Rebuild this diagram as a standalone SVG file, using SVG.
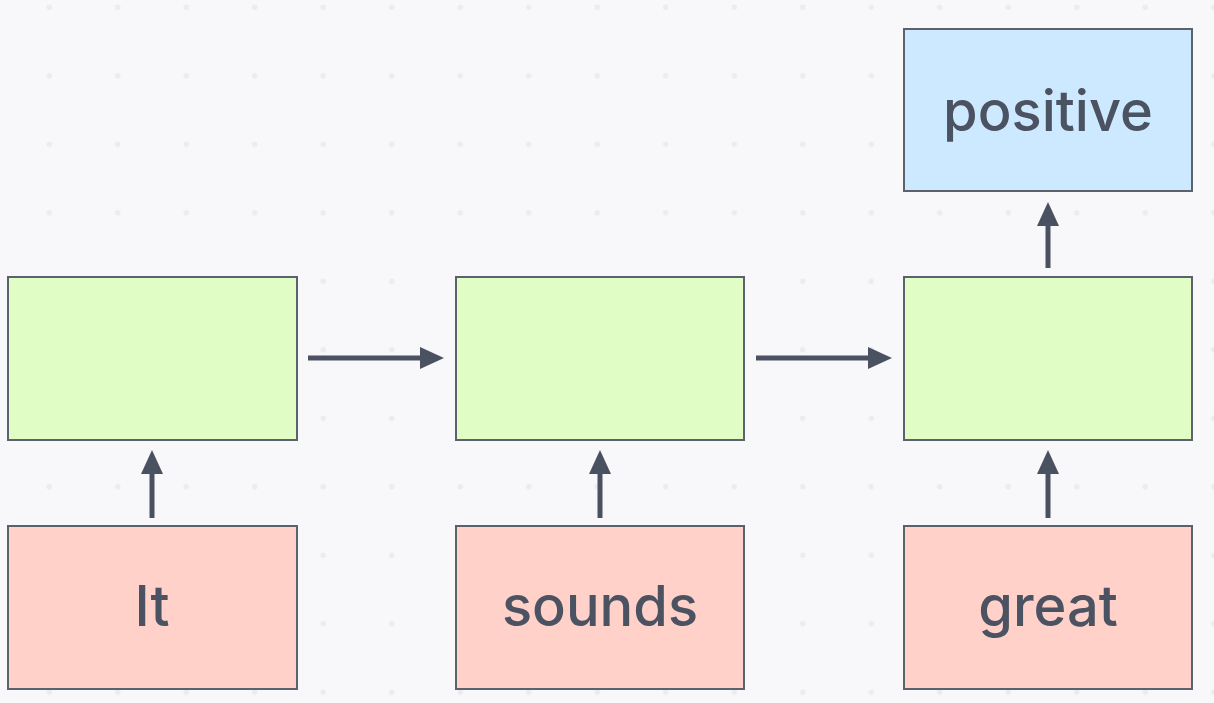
<svg xmlns="http://www.w3.org/2000/svg" width="1214" height="703" viewBox="0 0 1214 703">
<defs>
<style>
.box{stroke:#5b616d;stroke-width:2}
.green{fill:#e0fdc6}
.pink{fill:#ffd1c9}
.blue{fill:#cde9ff}
.lbl{font-family:Inter,"Noto Sans",sans-serif;font-size:56px;font-weight:500;fill:#4b5261;text-anchor:middle}
.conn{stroke:#4a5160;stroke-width:5;fill:none}
</style>
<pattern id="dots" x="15" y="-27" width="68.5" height="68.5" patternUnits="userSpaceOnUse">
<circle cx="34.25" cy="34.25" r="2.8" fill="#ececf0"/>
</pattern>
<marker id="ah" viewBox="0 0 24 24" refX="2" refY="12" markerWidth="24" markerHeight="24" markerUnits="userSpaceOnUse" orient="auto">
<path d="M0,1 L24,12 L0,23 Z" fill="#4a5160"/>
</marker>
</defs>
<rect width="1214" height="703" fill="#f8f8fa"/>
<rect width="1214" height="703" fill="url(#dots)"/>
<g id="connectors">
<line class="conn" x1="308" y1="358" x2="422" y2="358" marker-end="url(#ah)"/>
<line class="conn" x1="756" y1="358" x2="870" y2="358" marker-end="url(#ah)"/>
<line class="conn" x1="152" y1="518" x2="152" y2="472" marker-end="url(#ah)"/>
<line class="conn" x1="600" y1="518" x2="600" y2="472" marker-end="url(#ah)"/>
<line class="conn" x1="1048" y1="518" x2="1048" y2="472" marker-end="url(#ah)"/>
<line class="conn" x1="1048" y1="268" x2="1048" y2="224" marker-end="url(#ah)"/>
</g>
<g id="node-positive"><rect class="box blue" x="904" y="29" width="288" height="162"/><text class="lbl" x="1048" y="131">positive</text></g>
<g id="node-h1"><rect class="box green" x="8" y="277" width="289" height="163"/></g>
<g id="node-h2"><rect class="box green" x="456" y="277" width="288" height="163"/></g>
<g id="node-h3"><rect class="box green" x="904" y="277" width="288" height="163"/></g>
<g id="node-it"><rect class="box pink" x="8" y="526" width="289" height="163"/><text class="lbl" x="152" y="626">It</text></g>
<g id="node-sounds"><rect class="box pink" x="456" y="526" width="288" height="163"/><text class="lbl" x="600" y="626">sounds</text></g>
<g id="node-great"><rect class="box pink" x="904" y="526" width="288" height="163"/><text class="lbl" x="1048" y="626">great</text></g>
</svg>
